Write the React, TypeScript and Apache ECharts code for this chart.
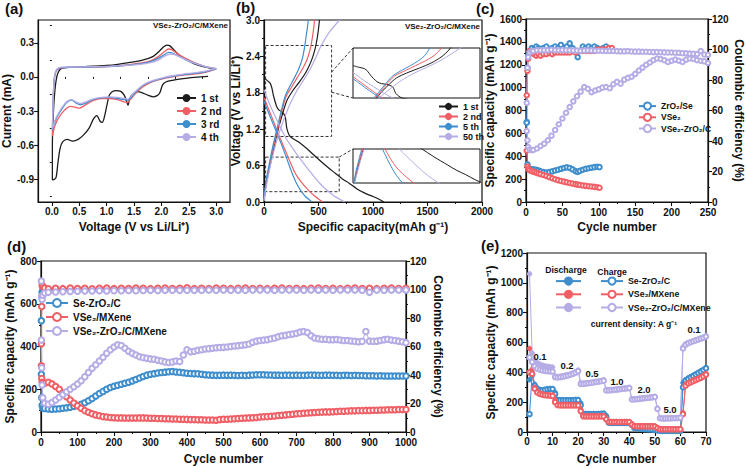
import React, { useEffect, useRef } from "react";
import * as echarts from "echarts";

const FONT = 'Arial, "Liberation Sans", Helvetica, sans-serif';
const AX = "#111";
const BLACK = "#1c1c1c";
const RED = "#ef5f65";
const BLUE = "#3e8dcc";
const LAV = "#b5ace6";

// ---------- (a) CV curves [V, I] ----------
const cv1st = [[2.85,0.005],[2.6,-0.005],[2.4,-0.015],[2.2,-0.03],[2.08,-0.045],[2.02,-0.07],[1.97,-0.14],[1.92,-0.165],[1.85,-0.175],[1.75,-0.16],[1.65,-0.14],[1.57,-0.13],[1.48,-0.15],[1.42,-0.19],[1.39,-0.25],[1.36,-0.21],[1.32,-0.16],[1.25,-0.125],[1.17,-0.12],[1.1,-0.13],[1.05,-0.16],[1.0,-0.26],[0.96,-0.35],[0.92,-0.4],[0.88,-0.39],[0.82,-0.34],[0.76,-0.37],[0.68,-0.45],[0.58,-0.51],[0.48,-0.55],[0.38,-0.565],[0.28,-0.55],[0.2,-0.57],[0.15,-0.63],[0.11,-0.76],[0.08,-0.88],[0.05,-0.9],[0.01,-0.905],[0.01,-0.6],[0.03,-0.3],[0.06,-0.1],[0.1,0.02],[0.15,0.065],[0.22,0.08],[0.4,0.088],[0.6,0.09],[0.8,0.095],[1.0,0.1],[1.2,0.11],[1.4,0.125],[1.6,0.14],[1.75,0.16],[1.85,0.18],[1.95,0.22],[2.03,0.26],[2.1,0.28],[2.15,0.275],[2.22,0.24],[2.3,0.2],[2.45,0.15],[2.6,0.115],[2.8,0.085],[2.97,0.07]];
const cv2nd = [[3.0,0.07],[2.8,0.04],[2.6,0.025],[2.4,0.015],[2.2,0.0],[2.0,-0.02],[1.85,-0.04],[1.7,-0.075],[1.6,-0.11],[1.5,-0.16],[1.43,-0.2],[1.38,-0.225],[1.32,-0.22],[1.2,-0.2],[1.05,-0.19],[0.9,-0.19],[0.75,-0.21],[0.6,-0.25],[0.5,-0.275],[0.42,-0.265],[0.34,-0.26],[0.26,-0.28],[0.18,-0.32],[0.1,-0.38],[0.05,-0.44],[0.02,-0.5],[0.01,-0.52],[0.02,-0.3],[0.04,-0.05],[0.07,0.04],[0.12,0.07],[0.2,0.08],[0.4,0.085],[0.7,0.085],[1.0,0.09],[1.3,0.1],[1.6,0.12],[1.8,0.14],[1.95,0.18],[2.05,0.22],[2.13,0.245],[2.2,0.235],[2.3,0.2],[2.45,0.16],[2.6,0.125],[2.8,0.09],[3.0,0.07]];
const cv3rd = [[3.0,0.07],[2.8,0.045],[2.6,0.03],[2.4,0.02],[2.2,0.005],[2.0,-0.015],[1.85,-0.035],[1.7,-0.065],[1.6,-0.1],[1.5,-0.15],[1.43,-0.19],[1.38,-0.205],[1.32,-0.2],[1.2,-0.19],[1.05,-0.18],[0.9,-0.185],[0.75,-0.2],[0.62,-0.23],[0.52,-0.245],[0.44,-0.23],[0.36,-0.205],[0.28,-0.22],[0.2,-0.27],[0.12,-0.33],[0.06,-0.39],[0.02,-0.45],[0.01,-0.47],[0.02,-0.28],[0.04,-0.04],[0.07,0.045],[0.12,0.075],[0.2,0.082],[0.4,0.085],[0.7,0.087],[1.0,0.09],[1.3,0.1],[1.6,0.115],[1.8,0.135],[1.95,0.165],[2.05,0.195],[2.13,0.215],[2.2,0.21],[2.3,0.185],[2.45,0.15],[2.6,0.12],[2.8,0.09],[3.0,0.07]];
const cv4th = [[3.0,0.075],[2.8,0.05],[2.6,0.035],[2.4,0.025],[2.2,0.01],[2.0,-0.01],[1.85,-0.03],[1.7,-0.06],[1.6,-0.095],[1.5,-0.14],[1.43,-0.18],[1.38,-0.195],[1.32,-0.19],[1.2,-0.18],[1.05,-0.175],[0.9,-0.18],[0.75,-0.195],[0.62,-0.22],[0.52,-0.235],[0.44,-0.22],[0.36,-0.2],[0.28,-0.215],[0.2,-0.26],[0.12,-0.32],[0.06,-0.38],[0.02,-0.44],[0.01,-0.46],[0.02,-0.27],[0.04,-0.03],[0.07,0.05],[0.12,0.078],[0.2,0.085],[0.4,0.087],[0.7,0.09],[1.0,0.092],[1.3,0.1],[1.6,0.11],[1.8,0.125],[1.95,0.15],[2.05,0.18],[2.15,0.2],[2.22,0.198],[2.32,0.18],[2.45,0.15],[2.6,0.12],[2.8,0.09],[3.0,0.075]];

// ---------- (b) GCD curves [capacity, V] ----------
const gcd1Dis = [[0,2.05],[30,2.0],[56,1.96],[72,1.88],[86,1.76],[117,1.57],[140,1.51],[164,1.49],[194,1.41],[210,1.21],[240,1.08],[318,0.99],[400,0.87],[472,0.75],[560,0.61],[657,0.47],[720,0.38],[781,0.31],[850,0.22],[920,0.15],[1000,0.09],[1060,0.04],[1100,0.0]];
const gcd1Cha = [[0,0.02],[20,0.3],[55,0.6],[97,0.95],[138,1.25],[178,1.5],[212,1.68],[262,1.83],[325,1.98],[385,2.14],[435,2.33],[468,2.52],[490,2.72],[503,2.9],[509,3.0]];
const gcd2Dis = [[0,1.72],[40,1.54],[80,1.36],[120,1.18],[160,1.0],[200,0.83],[240,0.66],[280,0.5],[320,0.38],[370,0.27],[420,0.17],[470,0.09],[515,0.03],[545,0.0]];
const gcd2Cha = [[0,0.02],[18,0.3],[50,0.6],[92,0.95],[132,1.25],[172,1.55],[205,1.75],[255,1.9],[305,2.05],[355,2.2],[395,2.35],[428,2.55],[447,2.75],[458,2.9],[463,3.0]];
const gcd5Dis = [[0,1.66],[40,1.48],[80,1.3],[120,1.13],[160,0.95],[200,0.76],[240,0.56],[270,0.42],[300,0.3],[340,0.18],[380,0.09],[420,0.03],[442,0.0]];
const gcd5Cha = [[0,0.02],[15,0.3],[45,0.6],[85,0.95],[125,1.25],[165,1.55],[195,1.75],[235,1.9],[280,2.05],[320,2.2],[350,2.35],[372,2.55],[388,2.75],[400,2.9],[407,3.0]];
const gcd50Dis = [[0,1.85],[50,1.62],[100,1.42],[150,1.23],[200,1.06],[250,0.92],[300,0.79],[350,0.67],[400,0.55],[450,0.44],[500,0.33],[550,0.24],[600,0.16],[650,0.09],[700,0.04],[740,0.0]];
const gcd50Cha = [[0,0.02],[25,0.3],[65,0.65],[115,1.0],[170,1.3],[235,1.6],[300,1.83],[360,2.0],[420,2.18],[480,2.4],[525,2.58],[600,2.8],[694,3.0]];

// ---------- (c) cycling ----------
const cCapCycles = [1,2,3,5,8,11,14,17,20,24,28,32,36,40,44,48,52,56,60,64,68,71,74,78,82,86,90,94,98,101];
const cZrSeCap = [700,330,300,290,287,284,281,276,268,262,258,262,268,275,282,290,297,303,298,285,270,262,272,282,290,295,300,305,308,305];
const cVSeCap = [450,310,290,278,270,263,256,250,244,236,228,218,208,199,191,184,178,172,166,161,156,152,149,145,141,138,135,132,129,125];
const cCECycles = [1,2,3,5,8,11,14,17,20,24,28,32,36,40,44,48,52,56,60,64,68,71,74,78,82,86,90,94,98,102,106,110,114,118];
const cZrSeCE = [52,88,96,99,101,100,102,101,100,101,102,100,101,102,101,103,101,102,104,101,99,95,99,102,101,102,101,102,101,100,101,102,101,100];
const cVSeCE = [70,86,94,99,98,97,96,97,96,97,97,98,97,98,98,98,98,98,98,99,98,99,99,99,99,99,99,99,100,100,100,100,101,101];
const cLavCycles = [1,2,3,5,8,10,15,20,25,30,35,40,45,50,55,60,65,70,75,80,85,90,95,100,105,110,115,120,125,130,135,140,145,150,155,160,165,170,175,180,185,190,195,200,205,210,215,220,225,230,235,240,245,250];
const cLavCap = [620,540,480,458,452,455,468,490,510,540,580,630,680,730,780,830,880,925,965,1005,990,960,975,985,1000,1005,995,1030,1050,1035,1070,1085,1095,1120,1150,1175,1200,1220,1240,1255,1250,1240,1225,1235,1245,1235,1225,1245,1255,1250,1240,1235,1230,1215];
const cLavCE = [65,88,95,98,99,99,99.5,99.5,99.5,99.5,99.8,99.5,99.5,99.6,99.5,99.5,99.4,99.3,99.2,99.3,99.4,99.3,99.2,99.2,99.1,99,99,99,98.9,98.8,98.8,98.9,98.7,98.6,98.6,98.5,98.5,98.4,98.3,98.3,98.2,98.1,98,98,97.9,97.8,97.6,97.5,97.3,97.2,97,99,96.7,96.5];

// ---------- (d) long cycling ----------
const dCycles = [1,2,3,5,10,20,30,40,50,60,70,80,90,100,110,120,130,140,150,160,170,180,190,200,210,220,230,240,250,260,270,280,290,300,310,320,330,340,350,360,370,380,390,400,410,420,430,440,450,460,470,480,490,500,510,520,530,540,550,560,570,580,590,600,610,620,630,640,650,660,670,680,690,700,710,720,730,740,750,760,770,780,790,800,810,820,830,840,850,860,870,880,890,900,910,920,930,940,950,960,970,980,990,1000];
const dSeCap = [270,160,125,112,110,108,107,108,109,111,113,116,120,124,130,137,146,157,168,180,190,200,208,214,219,223,228,233,239,246,253,260,266,270,273,276,278,280,282,283,281,279,277,275,274,273,272,270,268,267,266,265,265,266,265,266,265,264,265,264,266,267,268,268,268,267,267,266,266,265,266,266,265,266,265,265,266,267,266,265,265,266,266,265,265,264,265,265,264,265,264,264,263,263,263,262,263,262,262,262,262,262,262,262];
const dVSeCap = [310,250,232,226,228,233,225,213,200,182,165,150,136,123,111,100,92,85,80,76,72,70,68,67,66,66,65,65,65,65,66,66,65,64,64,63,63,62,62,61,61,60,60,59,58,58,57,57,56,56,56,55,58,60,60,61,62,63,64,65,66,67,68,70,71,72,74,75,77,78,80,82,83,85,86,88,89,90,91,92,93,94,94,95,96,97,97,98,99,99,100,100,101,101,102,102,103,103,104,104,104,105,105,105];
const dLavCap = [430,300,220,160,135,130,138,150,162,175,188,200,212,225,240,258,278,298,315,332,350,368,385,398,408,405,392,378,368,360,352,348,345,342,340,336,332,328,325,328,332,330,360,385,375,378,382,385,388,390,392,394,395,396,398,400,402,404,406,408,412,420,425,428,430,432,436,440,446,450,452,456,458,462,468,470,465,450,440,436,434,434,432,432,433,430,428,428,426,424,422,424,470,425,424,425,428,432,434,430,428,425,422,418];
const dCECycles = [1,2,3,5,10,20,40,60,80,100,120,140,160,180,200,220,240,260,280,300,320,340,360,380,400,420,440,460,480,500,520,540,560,580,600,620,640,660,680,700,720,740,760,780,800,820,840,860,880,900,920,940,960,980,1000];
const dSeCE = [78,95,98,99.5,99.8,99.9,100,99.9,100,100.1,100,99.9,100,100.1,100,99.9,100,100,100.1,100,99.9,100,100,100.1,100,100,99.9,100,100,100.1,100,99.9,100,100,100.1,100,99.9,100,100,100,100.1,100,99.9,100,100,100,100.1,100,99.9,100,100,100.1,100,100,99.9];
const dVSeCE = [62,88,103,102,101,100.5,100.8,100.6,101,100.7,100.9,100.5,100.8,101,100.6,100.9,100.7,101,100.8,100.6,100.9,101,100.7,100.8,101.2,100.6,100.9,100.7,101,100.8,100.6,100.9,101,100.7,100.8,100.6,100.9,101,100.7,100.8,100.6,100.9,101,100.7,100.8,100.6,100.9,101,100.7,100.8,100.6,100.9,101,100.7,100.8];
const dLavCE = [106,95,93,96,97.5,98,98.3,98.5,98.6,98.8,98.9,99,99.1,99,99.2,99.1,99.3,99.2,99.3,99.4,99.3,99.4,99.5,99.4,99.5,99.4,99.5,99.6,99.5,99.6,99.5,99.6,99.5,99.6,99.7,99.6,99.5,99.6,99.7,99.6,99.5,99.6,99.7,99.6,99.5,99.6,99.7,99.6,99.5,98,99.6,99.5,99.6,99.7,99.6];

// ---------- (e) rate ----------
const eCycles = [1,2,3,4,5,6,7,8,9,10,11,12,13,14,15,16,17,18,19,20,21,22,23,24,25,26,27,28,29,30,31,32,33,34,35,36,37,38,39,40,41,42,43,44,45,46,47,48,49,50,51,52,53,54,55,56,57,58,59,60,61,62,63,64,65,66,67,68,69,70];
const eSeDis = [350,400,320,295,285,282,286,290,292,290, 265,218,217,216,216,216,216,217,218,218, 195,126,124,123,123,123,123,124,125,126, 110,66,64,63,63,63,63,63,63,63, 55,30,28,26,24,22,20,19,18,16, 12,10,9,9,8,8,8,8,8,8, 330,350,362,372,381,390,400,410,420,432];
const eSeCha = [120,385,312,290,280,278,282,286,288,288, 255,212,212,212,212,212,213,213,214,214, 180,121,120,120,120,120,120,121,121,122, 100,62,61,60,60,60,60,60,60,60, 48,27,25,23,21,19,18,17,16,14, 10,8,7,7,7,7,7,7,7,7, 300,345,356,366,375,385,395,405,415,427];
const eVSeDis = [560,420,300,275,262,256,252,250,248,247, 215,186,184,184,184,184,184,184,184,184, 150,110,109,109,109,109,109,109,109,109, 90,70,70,70,70,70,70,70,70,70, 55,42,41,41,41,41,41,41,41,40, 30,21,20,20,20,20,20,20,20,20, 130,320,332,340,348,355,362,370,380,392];
const eVSeCha = [400,390,290,265,255,250,247,245,243,242, 200,180,178,178,178,178,178,178,178,178, 140,105,104,104,104,104,104,104,104,104, 85,67,67,67,67,67,67,67,67,67, 50,39,38,38,38,38,38,38,38,37, 27,18,18,18,18,18,18,18,18,18, 120,310,325,333,341,348,355,363,373,385];
const eLavDis = [1060,530,480,465,455,448,443,440,437,435, 375,372,374,377,381,385,390,396,404,415, 330,328,330,332,334,337,340,342,345,350, 285,284,285,286,288,290,292,294,296,299, 222,222,224,226,228,230,232,234,236,240, 160,95,93,93,94,94,95,95,96,100, 570,590,600,606,612,618,624,630,636,645];
const eLavCha = [500,470,440,425,418,413,410,408,406,405, 368,366,368,371,375,379,384,390,398,408, 322,322,324,327,329,332,335,337,340,344, 279,279,280,282,284,286,288,290,292,295, 218,218,220,222,224,226,228,230,232,235, 155,92,90,90,91,91,92,92,93,96, 560,585,595,602,608,614,620,626,632,640];

const aXTicks = [0, 0.5, 1.0, 1.5, 2.0, 2.5, 3.0];
const aXMinor = [0.25, 0.75, 1.25, 1.75, 2.25, 2.75];
const aYTicks = [-0.9, -0.6, -0.3, 0, 0.3];
const aYMinor = [-1.05, -0.75, -0.45, -0.15, 0.15, 0.45];
const rateLabels = ["0.1", "0.2", "0.5", "1.0", "2.0", "5.0", "0.1"];

const zip = (xs, ys) => xs.map((x, i) => [x, ys[i]]);
const plain = (v) => String(Math.round(Number(v) * 1000) / 1000);
const fix1 = (v) => {
  const n = Number(v);
  return Math.abs(n) < 1e-6 ? "0.0" : n.toFixed(1);
};

function axis(o) {
  const a = {
    type: "value",
    gridIndex: o.grid,
    min: o.min,
    max: o.max,
    position: o.position,
    axisLine: { show: true, onZero: false, lineStyle: { color: AX, width: 1.2 } },
    axisTick: { show: true, inside: false, length: 4, lineStyle: { color: AX, width: 1.1 } },
    minorTick: { show: o.minor !== false, splitNumber: 2, length: 2, lineStyle: { color: AX, width: 1 } },
    axisLabel: { show: true, fontSize: 10, fontWeight: "bold", color: AX, fontFamily: FONT, margin: o.margin ?? 4, formatter: o.fmt || plain },
    splitLine: { show: false },
    name: o.name,
    nameLocation: "middle",
    nameGap: o.nameGap,
    nameTextStyle: { fontSize: 12, fontWeight: "bold", color: AX, fontFamily: FONT },
  };
  if (o.interval !== undefined) a.interval = o.interval;
  if (o.nameRotate !== undefined) a.nameRotate = o.nameRotate;
  if (o.ticks) {
    a.axisTick.customValues = o.ticks;
    a.axisLabel.customValues = o.ticks;
  }
  return a;
}
function minorAxis(grid, min, max, values, position) {
  return {
    type: "value", gridIndex: grid, min, max, position,
    axisLine: { show: false },
    axisTick: { show: true, inside: false, length: 2, customValues: values, lineStyle: { color: AX, width: 1 } },
    axisLabel: { show: false },
    splitLine: { show: false },
  };
}
function hiddenAxis(grid, min, max) {
  return { type: "value", gridIndex: grid, min, max, show: false, splitLine: { show: false } };
}

const line = (name, data, color, xi, yi, w = 1.3) => ({
  type: "line", name, data, xAxisIndex: xi, yAxisIndex: yi, symbol: "none",
  smooth: 0.3, lineStyle: { color, width: w }, itemStyle: { color }, clip: true,
});
const dots = (name, data, color, xi, yi, size, sym = "emptyCircle") => ({
  type: "line", name, data, xAxisIndex: xi, yAxisIndex: yi, symbol: sym, symbolSize: size,
  showAllSymbol: true,
  lineStyle: { color, width: 1 }, itemStyle: { color, borderColor: color, borderWidth: 1 },
});

const gridBox = (left, top, width, height, extra = {}) => ({
  left, top, width, height, show: true, borderColor: AX, borderWidth: 1.2, backgroundColor: "transparent", ...extra,
});
const legendText = (size) => ({ fontSize: size, fontWeight: "bold", fontFamily: FONT, color: AX });

const nSe = "Se-ZrO₂/C", nVSe = "VSe₂/MXene", nLav = "VSe₂-ZrO₂/C/MXene";
const cSe = "ZrO₂/Se", cVSe = "VSe₂", cLav = "VSe₂-ZrO₂/C";

function buildOption() {
  const gcd = [
    ["1 st", gcd1Dis, gcd1Cha, BLACK],
    ["2 nd", gcd2Dis, gcd2Cha, RED],
    ["5 th", gcd5Dis, gcd5Cha, BLUE],
    ["50 th", gcd50Dis, gcd50Cha, LAV],
  ];
  const series = [
    line("1 st", cv1st, BLACK, 0, 0),
    line("2 nd", cv2nd, RED, 0, 0),
    line("3 rd", cv3rd, BLUE, 0, 0),
    line("4 th", cv4th, LAV, 0, 0),
  ];
  gcd.forEach(([n, d, c, col]) => {
    series.push(line(n, d, col, 2, 2, 1.2));
    series.push(line(n, c, col, 2, 2, 1.2));
  });
  series[series.length - 1].markArea = {
    silent: true,
    itemStyle: { color: "rgba(0,0,0,0)", borderColor: "#333", borderWidth: 1, borderType: [3, 2] },
    data: [
      [{ xAxis: 15, yAxis: 2.58 }, { xAxis: 620, yAxis: 1.08 }],
      [{ xAxis: 15, yAxis: 0.74 }, { xAxis: 690, yAxis: 0.17 }],
    ],
  };
  gcd.forEach(([n, d, c, col]) => {
    series.push(line(n, d, col, 3, 3, 1));
    series.push(line(n, c, col, 3, 3, 1));
    series.push(line(n, d, col, 4, 4, 1));
    series.push(line(n, c, col, 4, 4, 1));
  });
  // (c)
  series.push(dots(cSe, zip(cCapCycles, cZrSeCap), BLUE, 5, 5, 4.5));
  series.push(dots(cVSe, zip(cCapCycles, cVSeCap), RED, 5, 5, 4.5));
  series.push(dots(cSe, zip(cCECycles, cZrSeCE), BLUE, 5, 6, 4.5));
  series.push(dots(cVSe, zip(cCECycles, cVSeCE), RED, 5, 6, 4.5));
  series.push(dots(cLav, zip(cLavCycles, cLavCap), LAV, 5, 5, 4.5));
  series.push(dots(cLav, zip(cLavCycles, cLavCE), LAV, 5, 6, 4.5));
  // (d)
  series.push(dots(nSe, zip(dCycles, dSeCap), BLUE, 6, 7, 5.5));
  series.push(dots(nVSe, zip(dCycles, dVSeCap), RED, 6, 7, 5.5));
  series.push(dots(nSe, zip(dCECycles, dSeCE), BLUE, 6, 8, 5.5));
  series.push(dots(nVSe, zip(dCECycles, dVSeCE), RED, 6, 8, 5.5));
  series.push(dots(nLav, zip(dCycles, dLavCap), LAV, 6, 7, 5.5));
  series.push(dots(nLav, zip(dCECycles, dLavCE), LAV, 6, 8, 5.5));
  // (e)
  series.push(dots("dis-Se", zip(eCycles, eSeDis), BLUE, 7, 9, 4.5, "circle"));
  series.push(dots(nSe, zip(eCycles, eSeCha), BLUE, 7, 9, 4.5));
  series.push(dots("dis-VSe", zip(eCycles, eVSeDis), RED, 7, 9, 4.5, "circle"));
  series.push(dots(nVSe, zip(eCycles, eVSeCha), RED, 7, 9, 4.5));
  series.push(dots("dis-Lav", zip(eCycles, eLavDis), LAV, 7, 9, 4.5, "circle"));
  series.push(dots(nLav, zip(eCycles, eLavCha), LAV, 7, 9, 4.5));

  const lg = (o) => ({ orient: "vertical", padding: 0, selectedMode: false, itemGap: 3, ...o });

  return {
    animation: false,
    backgroundColor: "#fff",
    grid: [
      gridBox(36, 20, 194, 182),
      gridBox(264, 20, 218, 182),
      gridBox(353, 48, 127, 50, { borderWidth: 1, backgroundColor: "#fff" }),
      gridBox(353, 149, 127, 34, { borderWidth: 1, backgroundColor: "#fff" }),
      gridBox(526, 19, 182, 183),
      gridBox(41, 261, 365, 171),
      gridBox(527, 253, 179, 179),
    ],
    xAxis: [
      axis({ grid: 0, min: -0.25, max: 3.25, ticks: aXTicks, minor: false, fmt: fix1, name: "Voltage (V vs Li/Li⁺)", nameGap: 19 }),
      minorAxis(0, -0.25, 3.25, aXMinor, "bottom"),
      axis({ grid: 1, min: 0, max: 2000, interval: 500, name: "Specific capacity(mAh g⁻¹)", nameGap: 19 }),
      hiddenAxis(2, 0, 620),
      hiddenAxis(3, 0, 880),
      axis({ grid: 4, min: 0, max: 250, interval: 50, name: "Cycle number", nameGap: 19, margin: 5 }),
      axis({ grid: 5, min: 0, max: 1000, interval: 100, name: "Cycle number", nameGap: 21, margin: 5 }),
      axis({ grid: 6, min: 0, max: 70, interval: 10, name: "Cycle number", nameGap: 21 }),
    ],
    yAxis: [
      axis({ grid: 0, min: -1.1, max: 0.5, ticks: aYTicks, minor: false, fmt: fix1, name: "Current (mA)", nameGap: 20 }),
      minorAxis(0, -1.1, 0.5, aYMinor, "left"),
      axis({ grid: 1, min: 0, max: 3, interval: 0.6, fmt: fix1, name: "Voltage (V vs Li/Li⁺)", nameGap: 17 }),
      hiddenAxis(2, 1.08, 2.58),
      hiddenAxis(3, 0.17, 0.74),
      axis({ grid: 4, min: 0, max: 1600, interval: 200, name: "Specific capacity (mAh g⁻¹)", nameGap: 23 }),
      axis({ grid: 4, min: 0, max: 120, interval: 20, position: "right", name: "Coulombic efficiency (%)", nameGap: 23, nameRotate: -90 }),
      axis({ grid: 5, min: 0, max: 800, interval: 200, name: "Specific capacity (mAh g⁻¹)", nameGap: 24 }),
      axis({ grid: 5, min: 0, max: 120, interval: 20, position: "right", name: "Coulombic efficiency (%)", nameGap: 26, nameRotate: -90 }),
      axis({ grid: 6, min: 0, max: 1200, interval: 200, name: "Specific capacity (mAh g⁻¹)", nameGap: 26 }),
    ],
    legend: [
      lg({ data: ["1 st", "2 nd", "3 rd", "4 th"], left: 176, top: 93, itemWidth: 19, itemHeight: 10, itemGap: 3, textStyle: legendText(10) }),
      lg({ data: ["1 st", "2 nd", "5 th", "50 th"], left: 438, top: 102, itemWidth: 19, itemHeight: 9, itemGap: 1, textStyle: legendText(9) }),
      lg({ data: [cSe, cVSe, cLav], left: 638, top: 101.5, itemWidth: 17, itemHeight: 9, itemGap: 2, textStyle: legendText(8.5) }),
      lg({ data: [nSe, nVSe, nLav], left: 45, top: 298, itemWidth: 22, itemHeight: 10, itemGap: 4, textStyle: legendText(10) }),
      lg({ data: ["dis-Se", "dis-VSe", "dis-Lav"], left: 555, top: 276.5, itemWidth: 25, itemHeight: 9, itemGap: 4, formatter: () => "", textStyle: legendText(9) }),
      lg({ data: [nSe, nVSe, nLav], left: 600, top: 276.5, itemWidth: 22, itemHeight: 9, itemGap: 4, textStyle: legendText(8.8) }),
    ],
    series,
  };
}

const txt = (text, x, y, size, align = "left", weight = "bold") => ({
  type: "text", x, y, silent: true, z: 50,
  style: { text, fill: AX, font: `${weight} ${size}px ${FONT}`, align, verticalAlign: "middle" },
});

export default function App() {
  const ref = useRef(null);
  useEffect(() => {
    const chart = echarts.init(ref.current, null, { renderer: "svg" });
    chart.setOption(buildOption());
    const pr = (xi, yi, pt) => chart.convertToPixel({ xAxisIndex: xi, yAxisIndex: yi }, pt);
    const seg = (a, b) => ({
      type: "line", silent: true, z: 40,
      shape: { x1: a[0], y1: a[1], x2: b[0], y2: b[1] },
      style: { stroke: "#333", lineWidth: 1, lineDash: [3, 2] },
    });
    const rateAt = [[540, 356], [567, 365], [592, 373], [617, 381], [644, 389], [670, 409], [694, 329]];
    const graphics = [
      txt("(a)", 5, 8, 15),
      txt("(b)", 236, 7, 15),
      txt("(c)", 476, 8, 15),
      txt("(d)", 7, 246, 15),
      txt("(e)", 481, 245, 15),
      txt("VSe₂-ZrO₂/C/MXene", 228, 25, 8, "right"),
      txt("VSe₂-ZrO₂/C/MXene", 480, 26, 8, "right"),
      txt("Discharge", 566, 270, 8.6, "center"),
      txt("Charge", 612, 271.5, 8.6, "center"),
      txt("current density: A g⁻¹", 634, 324, 8.6, "center"),
      ...rateLabels.map((t, i) => txt(t, rateAt[i][0], rateAt[i][1], 9.5, "center")),
      seg(pr(2, 2, [620, 2.14]), pr(3, 3, [0, 2.58])),
      seg(pr(2, 2, [620, 1.81]), pr(3, 3, [0, 1.08])),
      seg(pr(2, 2, [690, 0.74]), pr(4, 4, [0, 0.74])),
    ];
    chart.setOption({ graphic: graphics });
    return () => chart.dispose();
  }, []);
  return <div ref={ref} style={{ position: "absolute", left: 0, top: 0, width: 746, height: 469, background: "#fff" }} />;
}
